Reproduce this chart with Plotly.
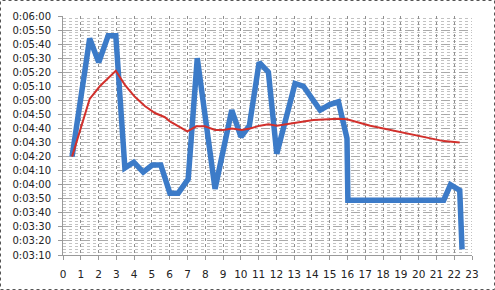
import plotly.graph_objects as go

# Blue series (lap pace, seconds) vs distance
blue_x = [0.51, 1.50, 2.01, 2.54, 2.97, 3.48, 3.98, 4.51, 5.02, 5.50, 6.01, 6.48, 7.04, 7.55,
          8.55, 9.49, 10.01, 10.48, 11.03, 11.55, 12.02, 13.05, 13.52, 14.46, 15.0, 15.49,
          15.97, 16.02, 17, 18, 19, 20, 21, 21.41, 21.79, 22.31, 22.44]
blue_t = [260, 344, 327, 346, 346, 252, 256, 249, 254, 254, 234, 234, 244, 330,
          237, 293, 274, 282, 327, 320, 262, 312, 310, 293, 297, 299,
          273, 229, 229, 229, 229, 229, 229, 229, 240, 236, 194]

# Red series (running average pace, seconds)
red_x = [0.51, 1.5, 2.07, 2.54, 2.97, 3.48, 4.04, 4.6, 5.17, 5.73, 6.01, 6.99, 7.5, 7.98,
         8.55, 9.01, 9.49, 10.05, 10.52, 11.08, 11.55, 12.02, 13.05, 14.08, 15.49, 15.97,
         17.28, 18.03, 19.15, 20.1, 21.41, 22.31]
red_t = [260, 301, 310, 315.5, 321, 311, 302.5, 296, 291, 288, 285, 278, 281.5, 281.5,
         279, 279, 280, 279, 280, 282, 283, 282, 284, 286, 287, 286.5,
         282, 280, 276.5, 274, 271, 270]

y_tickvals = [190, 200, 210, 220, 230, 240, 250, 260, 270, 280, 290, 300, 310, 320, 330, 340, 350, 360]
y_ticktext = ["0:03:10", "0:03:20", "0:03:30", "0:03:40", "0:03:50", "0:04:00", "0:04:10", "0:04:20",
              "0:04:30", "0:04:40", "0:04:50", "0:05:00", "0:05:10", "0:05:20", "0:05:30", "0:05:40",
              "0:05:50", "0:06:00"]
x_tickvals = list(range(0, 24))

W, H = 495, 290
L, R, T, B = 63, 23, 16, 35

fig = go.Figure()
fig.add_trace(go.Scatter(x=blue_x, y=blue_t, mode="lines",
                         line=dict(color="#3c7bc8", width=5.5), showlegend=False))
fig.add_trace(go.Scatter(x=red_x, y=red_t, mode="lines",
                         line=dict(color="#d2302c", width=2), showlegend=False))

pw, ph = W - L - R, H - T - B
fig.add_shape(type="rect", xref="paper", yref="paper",
              x0=(0.5 - L) / pw, x1=(W - 0.5 - L) / pw,
              y0=(H - B - (H - 0.5)) / ph, y1=(H - B - 0.5) / ph,
              line=dict(color="#555555", width=1, dash="dot"), layer="above")

fig.update_layout(
    width=W, height=H,
    margin=dict(l=L, r=R, t=T, b=B, autoexpand=False),
    paper_bgcolor="white", plot_bgcolor="white",
    font=dict(family="DejaVu Sans", size=10, color="#222222"),
    xaxis=dict(range=[0, 23], tickvals=x_tickvals, showgrid=True,
               gridcolor="#8f8f8f", griddash="dot", gridwidth=1,
               ticks="outside", ticklen=4, tickcolor="#9a9a9a",
               showline=True, linecolor="#9a9a9a", zeroline=False,
               ticklabelstandoff=5, automargin=False, fixedrange=True,
               tickfont=dict(size=10.5)),
    yaxis=dict(range=[190, 360], tickvals=y_tickvals, ticktext=y_ticktext,
               showgrid=True, gridcolor="#aaaaaa", gridwidth=1, griddash="dash",
               minor=dict(dtick=2, showgrid=True, gridcolor="#c2c2c2", griddash="dot", gridwidth=1),
               ticks="outside", ticklen=4, tickcolor="#9a9a9a",
               showline=True, linecolor="#9a9a9a", zeroline=False,
               ticklabelstandoff=5, automargin=False, fixedrange=True),
)

fig.write_html("out.html")
